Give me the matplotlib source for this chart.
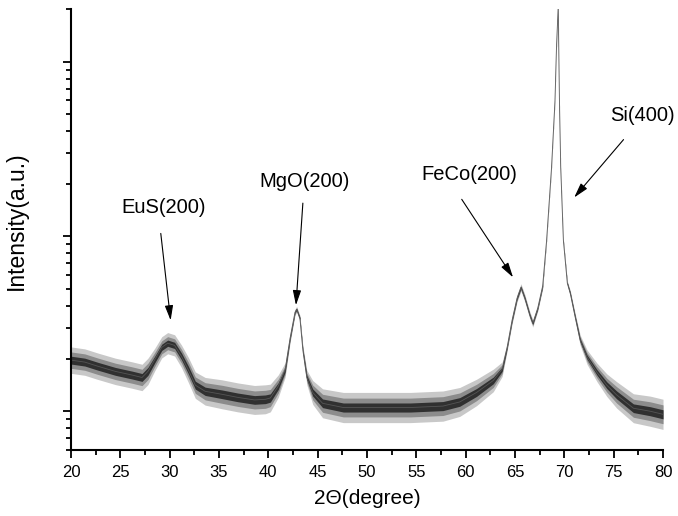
import numpy as np
import matplotlib
matplotlib.use("Agg")
import matplotlib.pyplot as plt

plt.rcParams['font.family'] = ['Liberation Sans', 'DejaVu Sans']

# XRD scan: 2theta, mean intensity, relative noise half-width
two_theta = [20.0, 21.4, 22.7, 24.5, 26.2, 27.2, 27.8, 28.5, 29.2, 29.8,
             30.5, 31.2, 31.9, 32.6, 33.6, 35.3, 36.9, 38.6, 39.7, 40.2,
             41.0, 41.7, 42.2, 42.7, 42.87, 43.2, 43.5, 43.9, 44.5, 45.5,
             47.6, 51.0, 54.4, 57.7, 59.4, 61.1, 62.8, 63.7, 64.2, 64.7,
             65.2, 65.6, 66.0, 66.5, 66.8, 67.3, 67.8, 68.2, 68.7, 69.05,
             69.2, 69.38, 69.5, 69.63, 69.9, 70.3, 70.6, 71.1, 71.6, 72.3,
             73.3, 74.3, 75.3, 77.0, 78.7, 80.0]
intensity = [19.6, 19.1, 18.1, 16.9, 16.1, 15.6, 16.9, 19.8, 23.2, 24.5,
             23.8, 20.6, 17.2, 14.1, 13.0, 12.5, 12.0, 11.6, 11.7, 11.9,
             13.9, 17.2, 26.1, 36.8, 38.3, 34.0, 22.3, 15.6, 12.8, 11.1,
             10.5, 10.5, 10.5, 10.7, 11.3, 12.8, 15.0, 17.4, 23.2, 33.1,
             44.2, 51.1, 44.2, 35.4, 31.8, 38.8, 52.0, 95.0, 248, 599,
             1200, 2100, 599, 248, 95.0, 54.0, 47.2, 34.5, 25.5, 20.4,
             16.7, 14.1, 12.4, 10.4, 10.0, 9.6]
noise = [0.19, 0.19, 0.19, 0.19, 0.19, 0.19, 0.19, 0.16, 0.15, 0.15,
         0.15, 0.16, 0.18, 0.19, 0.2, 0.21, 0.21, 0.21, 0.21, 0.2,
         0.16, 0.1, 0.06, 0.04, 0.04, 0.04, 0.06, 0.1, 0.17, 0.21,
         0.22, 0.22, 0.22, 0.22, 0.21, 0.19, 0.16, 0.1, 0.05, 0.05,
         0.05, 0.05, 0.05, 0.05, 0.05, 0.04, 0.04, 0.02, 0.02, 0.02,
         0.02, 0.02, 0.02, 0.02, 0.02, 0.03, 0.04, 0.05, 0.07, 0.1,
         0.13, 0.16, 0.19, 0.21, 0.22, 0.22]

labels = ["EuS(200)", "MgO(200)", "FeCo(200)", "Si(400)"]
label_pos = [(29.4, 146), (43.7, 206), (60.4, 226), (77.9, 491)]
arrow_from = [(29.1, 104), (43.5, 155), (59.6, 163), (76.0, 358)]
arrow_to = [(30.1, 33.1), (42.8, 40.4), (64.8, 58.3), (71.0, 167)]

x = np.array(two_theta)
y = np.array(intensity)
n = np.array(noise)

fig = plt.figure(figsize=(6.78, 5.16), dpi=100)
ax = fig.add_axes([0.1047, 0.1279, 0.8732, 0.8547])

# fuzzy band: light outer, mid grey, dark core
ax.fill_between(x, y / (1 + n), y * (1 + n), color='#c8c8c8', lw=0)
ax.fill_between(x, y / (1 + n * 0.6), y * (1 + n * 0.6), color='#8c8c8c', lw=0)
ax.fill_between(x, y / (1 + n * 0.28), y * (1 + n * 0.28), color='#303030', lw=0)
ax.plot(x, y, color='#555555', lw=0.6)

ax.set_yscale('log')
ax.set_xlim(20, 80)
ax.set_ylim(6, 2000)
ax.set_xticks(np.arange(20, 81, 5))
ax.set_xticks(np.arange(22.5, 80, 5), minor=True)
ax.yaxis.set_major_formatter(matplotlib.ticker.NullFormatter())
ax.yaxis.set_minor_formatter(matplotlib.ticker.NullFormatter())

for s in ['top', 'right']:
    ax.spines[s].set_visible(False)
for s in ['left', 'bottom']:
    ax.spines[s].set_linewidth(1.5)
ax.tick_params(which='major', length=6, width=1.3, labelsize=12, pad=5)
ax.tick_params(which='minor', length=3.5, width=1.3)

ax.set_xlabel('2Θ(degree)', fontsize=15, labelpad=6)
ax.set_ylabel('Intensity(a.u.)', fontsize=16.5)
ax.yaxis.set_label_coords(-0.072, 0.52)

for lab, pos, a, b in zip(labels, label_pos, arrow_from, arrow_to):
    ax.text(pos[0], pos[1], lab, fontsize=14.5, ha='center', va='center')
    ax.annotate('', xy=b, xytext=a,
                arrowprops=dict(arrowstyle='-|>,head_length=0.9,head_width=0.25',
                                lw=0.8, color='black', shrinkA=0, shrinkB=0))

fig.savefig('out.png', dpi=100)
